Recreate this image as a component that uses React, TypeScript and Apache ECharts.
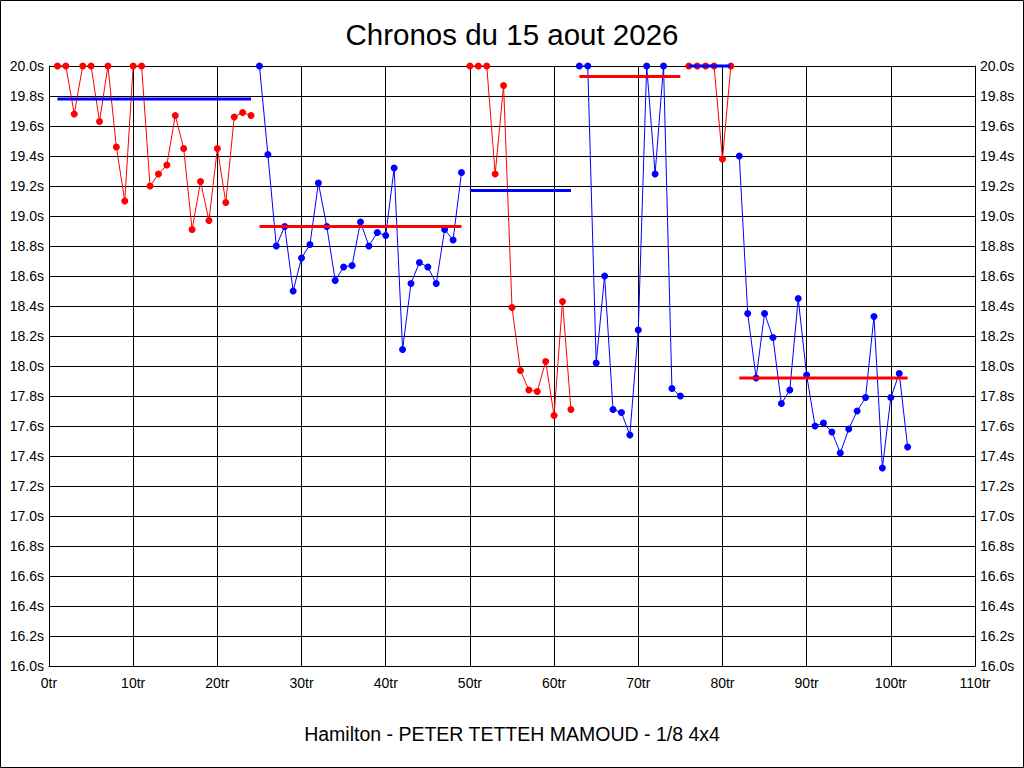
import React, { useEffect, useRef } from "react";
import * as echarts from "echarts";

const titleText = "Chronos du 15 aout 2026";
const subtitleText = "Hamilton - PETER TETTEH MAMOUD - 1/8 4x4";

// Lap number of the first lap of each stint
const stintStartLaps = [1, 25, 50, 63, 76, 82];

// Lap times (s), one array per stint
const stint1 = [20.0, 20.0, 19.68, 20.0, 20.0, 19.63, 20.0, 19.46, 19.10, 20.0, 20.0, 19.20, 19.28, 19.34, 19.67, 19.45, 18.91, 19.23, 18.97, 19.45, 19.09, 19.66, 19.69, 19.67];
const stint2 = [20.0, 19.41, 18.80, 18.93, 18.50, 18.72, 18.81, 19.22, 18.93, 18.57, 18.66, 18.67, 18.96, 18.80, 18.89, 18.87, 19.32, 18.11, 18.55, 18.69, 18.66, 18.55, 18.91, 18.84, 19.29];
const stint3 = [20.0, 20.0, 20.0, 19.28, 19.87, 18.39, 17.97, 17.84, 17.83, 18.03, 17.67, 18.43, 17.71];
const stint4 = [20.0, 20.0, 18.02, 18.60, 17.71, 17.69, 17.54, 18.24, 20.0, 19.28, 20.0, 17.85, 17.80];
const stint5 = [20.0, 20.0, 20.0, 20.0, 19.38, 20.0];
const stint6 = [19.40, 18.35, 17.92, 18.35, 18.19, 17.75, 17.84, 18.45, 17.94, 17.60, 17.62, 17.56, 17.42, 17.58, 17.70, 17.79, 18.33, 17.32, 17.79, 17.95, 17.46];

const stints = [stint1, stint2, stint3, stint4, stint5, stint6];

// Average lap time per stint (s)
const stintAverages = [19.78, 18.93, 19.17, 19.93, 20.0, 17.92];

const xTickStep = 10;
const xMax = 110;
const yMin = 16;
const yMax = 20;
const yStep = 0.2;

const FONT = "'Liberation Sans', Arial, sans-serif";

export default function App() {
  const ref = useRef<HTMLDivElement>(null);

  useEffect(() => {
    document.body.style.margin = "0";
    if (!ref.current) return;
    const chart = echarts.init(ref.current, undefined, { renderer: "svg" });

    const series: any[] = [];
    stints.forEach((vals, i) => {
      const color = i % 2 === 0 ? "#ff0000" : "#0000ff";
      series.push({
        type: "line",
        data: vals.map((v, k) => [stintStartLaps[i] + k, v]),
        symbol: "circle",
        symbolSize: 7,
        showAllSymbol: true,
        lineStyle: { color, width: 1 },
        itemStyle: { color },
        clip: false,
        z: 3,
      });
    });
    stints.forEach((vals, i) => {
      const color = i % 2 === 0 ? "#0000ff" : "#ff0000";
      const a = stintStartLaps[i];
      const b = a + vals.length - 1;
      series.push({
        type: "line",
        data: [
          [a, stintAverages[i]],
          [b, stintAverages[i]],
        ],
        symbol: "none",
        lineStyle: { color, width: 3 },
        clip: false,
        z: 4,
      });
    });

    const yAxisBase = {
      type: "value",
      min: yMin,
      max: yMax,
      interval: yStep,
      axisLine: { show: true, lineStyle: { color: "#000", width: 1 } },
      axisTick: { show: false },
      axisLabel: {
        color: "#000",
        fontSize: 14,
        fontFamily: FONT,
        margin: 5,
        formatter: (v: number) => v.toFixed(1) + "s",
      },
    };

    chart.setOption({
      animation: false,
      backgroundColor: "#fff",
      grid: { left: 49, right: 49, top: 66, bottom: 102, containLabel: false },
      xAxis: {
        type: "value",
        min: 0,
        max: xMax,
        interval: xTickStep,
        axisLine: { show: true, onZero: false, lineStyle: { color: "#000", width: 1 } },
        axisTick: { show: false },
        splitLine: { show: true, lineStyle: { color: "#000", width: 1 } },
        axisLabel: {
          color: "#000",
          fontSize: 14,
          fontFamily: FONT,
          margin: 10,
          formatter: (v: number) => v + "tr",
        },
      },
      yAxis: [
        {
          ...yAxisBase,
          position: "left",
          splitLine: { show: true, lineStyle: { color: "#000", width: 1 } },
        },
        {
          ...yAxisBase,
          position: "right",
          splitLine: { show: false },
        },
      ],
      graphic: [
        {
          type: "rect",
          shape: { x: 0.5, y: 0.5, width: 1023, height: 767 },
          style: { fill: "none", stroke: "#000", lineWidth: 1 },
          silent: true,
        },
        {
          type: "text",
          x: 512,
          y: 34,
          style: {
            text: titleText,
            fontSize: 29.5,
            fontFamily: FONT,
            fill: "#000",
            textAlign: "center",
            textVerticalAlign: "middle",
          },
        },
        {
          type: "text",
          x: 512,
          y: 734,
          style: {
            text: subtitleText,
            fontSize: 19.5,
            fontFamily: FONT,
            fill: "#000",
            textAlign: "center",
            textVerticalAlign: "middle",
          },
        },
      ],
      series,
    });

    return () => chart.dispose();
  }, []);

  return <div ref={ref} style={{ width: 1024, height: 768 }} />;
}
